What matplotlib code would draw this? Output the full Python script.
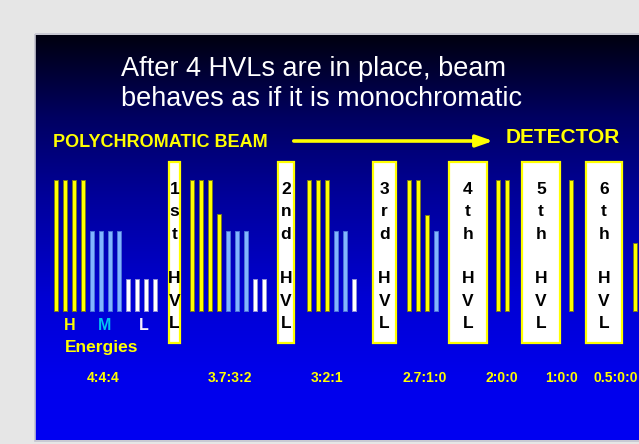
import numpy as np
import matplotlib
matplotlib.use("Agg")
import matplotlib.pyplot as plt
from matplotlib.patches import Rectangle, FancyArrowPatch
from matplotlib.colors import LinearSegmentedColormap

# ---------------- data ----------------
title_lines = ["After 4 HVLs are in place, beam", "behaves as if it is monochromatic"]
ratio_labels = ["4:4:4", "3.7:3:2", "3:2:1", "2.7:1:0", "2:0:0", "1:0:0", "0.5:0:0"]
high_bars = [[1, 1, 1, 1], [1, 1, 1, 0.74], [1, 1, 1], [1, 1, 0.73], [1, 1], [1], [0.52]]
mid_bars = [[0.61] * 4, [0.61] * 3, [0.61] * 2, [0.61], [], [], []]
low_bars = [[0.245] * 4, [0.245] * 2, [0.245], [], [], [], []]
hvl_labels = ["1st", "2nd", "3rd", "4th", "5th", "6th"]
energy_labels = ["H", "M", "L"]

# ---------------- layout (pixels) ----------------
W, H = 639, 444
panel = (35, 35, 639, 440)          # left, top, right, bottom
group_x0 = [55.5, 191.5, 309, 409, 498.3, 570.7, 634.7]
bar_step = 9
bar_w = 4.0
bar_base, bar_top = 311, 180
ratio_x = [103, 229.6, 327, 425, 502, 562, 615.5]
ratio_y = 382
hvl_x = [(169, 180), (278, 294), (373, 396), (449, 487), (522, 560), (586, 622)]
hvl_y = (162, 343)
energy_x = [70, 105, 144]

YEL = "#ffff00"
LBLUE = "#80b4ff"
WHITE = "#ffffff"
FONT = "Liberation Sans"

fig = plt.figure(figsize=(W / 100, H / 100), dpi=100)
fig.patch.set_facecolor("#e6e6e6")

L, T, R, B = panel
ax = fig.add_axes([L / W, (H - B) / H, (R - L) / W, (B - T) / H])
ax.set_xlim(L, R)
ax.set_ylim(B, T)
ax.axis("off")

# background gradient
cmap = LinearSegmentedColormap.from_list(
    "bg", [(0, "#00000f"), (0.2, "#000060"), (0.4, "#00009a"),
           (0.65, "#0000d4"), (0.85, "#0000ec"), (1.0, "#0000f2")])
grad = np.linspace(0, 1, 256).reshape(-1, 1)
ax.imshow(grad, cmap=cmap, extent=(L, R, B, T), aspect="auto", zorder=0)
ax.add_patch(Rectangle((L - 0.5, T - 0.5), R - L + 2, B - T + 1, fill=False,
                       edgecolor="#c4c4d0", lw=1.2, zorder=1, clip_on=False))

# title
ax.text(121, 76, title_lines[0], color="white", fontsize=19.5, family=FONT, va="baseline")
ax.text(121, 106, title_lines[1], color="white", fontsize=19.5, family=FONT, va="baseline")

# beam label + arrow + detector
ax.text(53, 147, "POLYCHROMATIC BEAM", color=YEL, fontsize=13, family=FONT,
        fontweight="bold", va="baseline")
ax.add_patch(FancyArrowPatch((291, 141), (496, 141),
                             arrowstyle="-|>,head_length=1.0,head_width=0.35",
                             color=YEL, lw=2.6, mutation_scale=10, zorder=3))
ax.text(506, 143, "DETECTOR", color=YEL, fontsize=15, family=FONT,
        fontweight="bold", va="baseline")

# HVL boxes
for (x0, x1), lab in zip(hvl_x, hvl_labels):
    ax.add_patch(Rectangle((x0, hvl_y[0]), x1 - x0, hvl_y[1] - hvl_y[0],
                           facecolor="white", edgecolor=YEL, lw=1.6, zorder=3))
    chars = list(lab) + [""] + list("HVL")
    for i, ch in enumerate(chars):
        if ch:
            ax.text((x0 + x1) / 2, 194 + 22.3 * i, ch, color="black", fontsize=12.5,
                    family=FONT, fontweight="bold", ha="center", va="baseline", zorder=4)

# energy labels
for x, lab, c in zip(energy_x, energy_labels, [YEL, "#00c4f0", "#f4eeff"]):
    ax.text(x, 330, lab, color=c, fontsize=11.5, family=FONT, fontweight="bold",
            ha="center", va="baseline")
ax.text(65, 352, "Energies", color=YEL, fontsize=12.5, family=FONT,
        fontweight="bold", va="baseline")

# ratio labels
for x, lab in zip(ratio_x, ratio_labels):
    ax.text(x, ratio_y, lab, color=YEL, fontsize=10, family=FONT, fontweight="bold",
            ha="center", va="baseline", clip_on=False)

# bars axes (value 0 at bar_base, value 1 at bar_top)
bx = fig.add_axes([L / W, (H - bar_base) / H, (R - L) / W, (bar_base - bar_top) / H])
bx.set_xlim(L, R)
bx.set_ylim(0, 1)
bx.axis("off")
bx.patch.set_alpha(0)

for g, x0 in enumerate(group_x0):
    slot = 0
    for vals, col, ec in [(high_bars[g], YEL, "#7a7a20"),
                          (mid_bars[g], LBLUE, "#4d74d8"),
                          (low_bars[g], WHITE, "#9090d8")]:
        if vals:
            xs = x0 + bar_step * (slot + np.arange(len(vals)))
            bx.bar(xs, vals, width=bar_w, color=col, edgecolor=ec, lw=0.7, clip_on=False)
            slot += len(vals)

fig.savefig("out.png", dpi=100, facecolor=fig.get_facecolor())
